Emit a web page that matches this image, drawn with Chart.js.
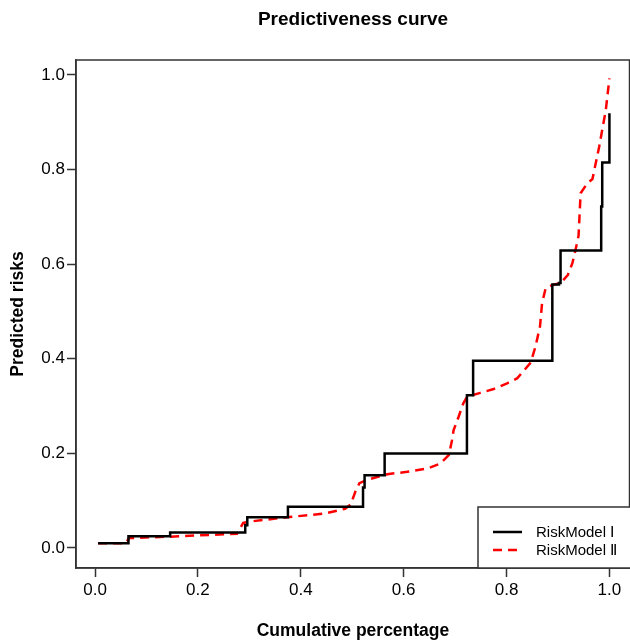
<!DOCTYPE html>
<html>
<head>
<meta charset="utf-8">
<script src="https://cdn.jsdelivr.net/npm/chart.js@4"></script>
<style>
  html, body { margin: 0; padding: 0; background: #fff; }
  #wrap { width: 630px; height: 643px; position: relative; }
</style>
</head>
<body>
<div id="wrap"><canvas id="c"></canvas></div>
<script>
// Model I (step function): cumulative percentage where each new level starts, and level
const model1X = [0.006, 0.065, 0.146, 0.292, 0.296, 0.375, 0.521, 0.524, 0.563, 0.723, 0.735, 0.889, 0.902, 0.905, 0.984, 0.986, 1.000];
const model1Y = [0.010, 0.025, 0.033, 0.048, 0.065, 0.087, 0.128, 0.154, 0.200, 0.323, 0.396, 0.557, 0.560, 0.629, 0.722, 0.815, 0.919];

// Model II (dashed)
const model2X = [0.006, 0.060, 0.066, 0.146, 0.276, 0.288, 0.302, 0.373, 0.448, 0.486, 0.497, 0.506, 0.514, 0.522, 0.535, 0.568, 0.607, 0.646, 0.672, 0.688, 0.694, 0.697, 0.707, 0.716, 0.7235, 0.749, 0.775, 0.801, 0.821, 0.847, 0.856, 0.865, 0.869, 0.876, 0.889, 0.905, 0.919, 0.928, 0.934, 0.940, 0.944, 0.957, 0.967, 0.980, 0.993, 1.000];
const model2Y = [0.010, 0.010, 0.021, 0.024, 0.030, 0.053, 0.056, 0.065, 0.073, 0.083, 0.092, 0.119, 0.137, 0.141, 0.146, 0.156, 0.161, 0.168, 0.179, 0.197, 0.228, 0.249, 0.278, 0.306, 0.320, 0.328, 0.336, 0.348, 0.359, 0.392, 0.425, 0.468, 0.517, 0.549, 0.556, 0.560, 0.577, 0.602, 0.630, 0.660, 0.750, 0.771, 0.780, 0.848, 0.926, 0.993];

const seriesNames = ['RiskModel Ⅰ', 'RiskModel Ⅱ'];
const xTickValues = [0.0, 0.2, 0.4, 0.6, 0.8, 1.0];
const yTickValues = [0.0, 0.2, 0.4, 0.6, 0.8, 1.0];
const chartTitle = 'Predictiveness curve';
const xTitle = 'Cumulative percentage';
const yTitle = 'Predicted risks';

const FONT = '"Liberation Sans", Arial, sans-serif';

const toPts = (xs, ys) => xs.map((x, i) => ({ x: x, y: ys[i] }));

// main title centred over the plot box (as in the reference)
const titlePlugin = {
  id: 'boxTitle',
  afterDraw(chart) {
    const { ctx, chartArea: a } = chart;
    ctx.save();
    ctx.fillStyle = '#000';
    ctx.font = 'bold 19px ' + FONT;
    ctx.textAlign = 'center';
    ctx.textBaseline = 'middle';
    ctx.fillText(chartTitle, (a.left + a.right) / 2, 20);
    ctx.restore();
  }
};

const framePlugin = {
  id: 'frame',
  afterDatasetsDraw(chart) {
    const { ctx, chartArea: a } = chart;
    ctx.save();
    ctx.strokeStyle = '#333';
    ctx.lineWidth = 1.5;
    ctx.strokeRect(a.left, a.top, a.right - a.left - 0.5, a.bottom - a.top);
    ctx.restore();
  }
};

const legendPlugin = {
  id: 'boxLegend',
  afterDraw(chart) {
    const { ctx, chartArea: a } = chart;
    const w = 152, h = 61;
    const left = a.right - w, top = a.bottom - h;
    ctx.save();
    ctx.fillStyle = '#fff';
    ctx.fillRect(left, top, w, h);
    ctx.strokeStyle = '#333';
    ctx.lineWidth = 1.5;
    ctx.strokeRect(left, top, w + 2, h);
    chart.data.datasets.forEach((ds, i) => {
      const y = top + 25 + i * 18;
      ctx.beginPath();
      ctx.strokeStyle = ds.borderColor;
      ctx.lineWidth = ds.borderWidth;
      ctx.setLineDash(ds.borderDash || []);
      ctx.moveTo(left + 15, y);
      ctx.lineTo(left + 44, y);
      ctx.stroke();
      ctx.setLineDash([]);
      ctx.fillStyle = '#000';
      ctx.font = '15px ' + FONT;
      ctx.textBaseline = 'middle';
      ctx.textAlign = 'left';
      ctx.fillText(ds.label, left + 58, y + 1);
    });
    ctx.restore();
  }
};

new Chart(document.getElementById('c'), {
  type: 'line',
  data: {
    datasets: [
      {
        label: seriesNames[0],
        data: toPts(model1X, model1Y),
        borderColor: '#000000',
        borderWidth: 2.5,
        stepped: true,
        pointRadius: 0,
        fill: false
      },
      {
        label: seriesNames[1],
        data: toPts(model2X, model2Y),
        borderColor: '#ff0000',
        borderWidth: 2.5,
        borderDash: [9, 6],
        tension: 0,
        pointRadius: 0,
        fill: false
      }
    ]
  },
  options: {
    responsive: true,
    maintainAspectRatio: false,
    animation: false,
    layout: { padding: { left: 0, right: 0, top: 60, bottom: 0 } },
    plugins: {
      legend: { display: false },
      tooltip: { enabled: false },
      title: { display: false }
    },
    scales: {
      x: {
        type: 'linear',
        min: -0.037,
        max: 1.04,
        afterBuildTicks: (s) => { s.ticks = xTickValues.map(v => ({ value: v })); },
        afterFit: (s) => { s.height = 75; },
        ticks: {
          color: '#000',
          font: { family: FONT, size: 17 },
          padding: 3,
          maxRotation: 0,
          autoSkip: false,
          callback: (v) => Number(v).toFixed(1)
        },
        grid: { display: true, drawOnChartArea: false, drawTicks: true, tickLength: 9, tickColor: '#333', tickWidth: 1.5 },
        border: { display: true, color: '#333', width: 1.5 },
        title: {
          display: true,
          text: xTitle,
          color: '#000',
          font: { family: FONT, size: 17.5, weight: 'bold', lineHeight: 1.2 },
          padding: { top: 0, bottom: 1 }
        }
      },
      y: {
        type: 'linear',
        min: -0.0423,
        max: 1.0317,
        afterBuildTicks: (s) => { s.ticks = yTickValues.map(v => ({ value: v })); },
        afterFit: (s) => { s.width = 76; },
        ticks: {
          color: '#000',
          font: { family: FONT, size: 17 },
          padding: 2,
          autoSkip: false,
          callback: (v) => Number(v).toFixed(1)
        },
        grid: { display: true, drawOnChartArea: false, drawTicks: true, tickLength: 9, tickColor: '#333', tickWidth: 1.5 },
        border: { display: true, color: '#333', width: 1.5 },
        title: {
          display: true,
          text: yTitle,
          color: '#000',
          font: { family: FONT, size: 17.5, weight: 'bold', lineHeight: 1.2 },
          padding: { top: 7.5, bottom: 0 }
        }
      }
    }
  },
  plugins: [framePlugin, legendPlugin, titlePlugin]
});
</script>
</body>
</html>
